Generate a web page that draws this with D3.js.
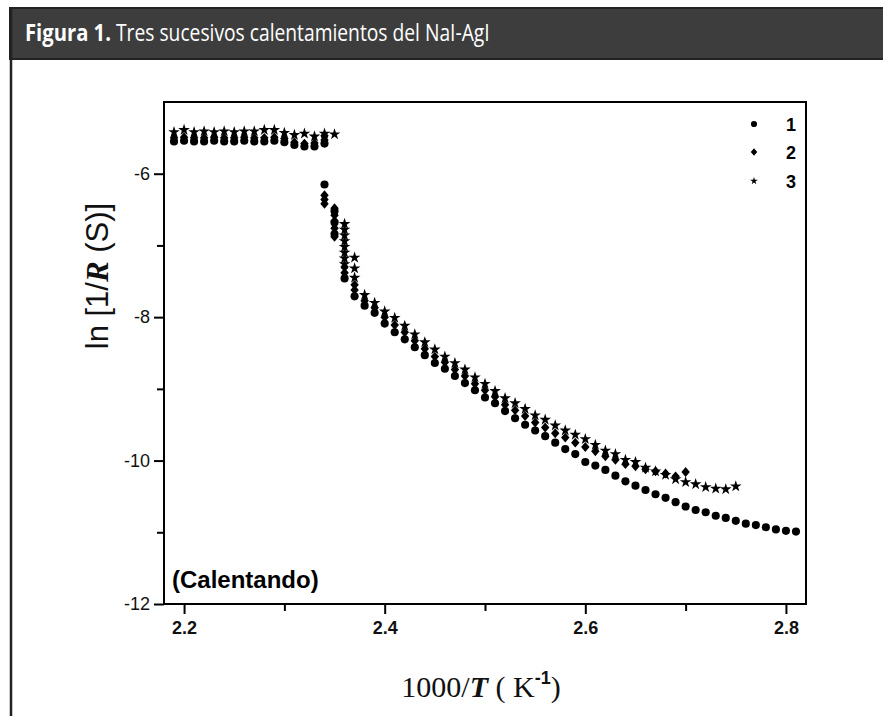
<!DOCTYPE html>
<html>
<head>
<meta charset="utf-8">
<script src="https://cdn.jsdelivr.net/npm/d3@7/dist/d3.min.js"></script>
<style>
  html, body { margin: 0; padding: 0; background: #fff; }
  svg { display: block; }
</style>
</head>
<body>
<svg id="chart" width="883" height="716"></svg>
<script>
// ---------------- DATA ----------------
const titleBold = "Figura 1.";
const titleRest = "Tres sucesivos calentamientos del NaI-AgI";
const xTicksMajor = [2.2, 2.4, 2.6, 2.8];
const xTicksMinor = [2.3, 2.5, 2.7];
const yTicksMajor = [-12, -10, -8, -6];
const yTicksMinor = [-11, -9, -7];
const seriesNames = ["1", "2", "3"];

// Series 1 (circles)
const x1 = [2.19,2.20,2.21,2.22,2.23,2.24,2.25,2.26,2.27,2.28,2.29,2.30,2.31,2.32,2.33,2.34,
  2.34, 2.35,2.35,2.35, 2.36,
  2.37,2.38,2.39,2.40,2.41,2.42,2.43,2.44,2.45,2.46,2.47,2.48,2.49,2.50,2.51,2.52,2.53,2.54,2.55,2.56,2.57,
  2.58,2.59,2.60,2.61,2.62,2.63,2.64,2.65,2.66,2.67,2.68,2.69,2.70,2.71,2.72,2.73,2.74,2.75,2.76,2.77,2.78,2.79,2.80,2.81];
const y1 = [-5.55,-5.54,-5.55,-5.55,-5.54,-5.55,-5.55,-5.54,-5.55,-5.55,-5.54,-5.56,-5.60,-5.62,-5.62,-5.58,
  -6.15, -6.52,-6.68,-6.84, -7.46,
  -7.71,-7.84,-7.94,-8.09,-8.21,-8.31,-8.42,-8.53,-8.64,-8.72,-8.82,-8.92,-9.02,-9.12,-9.20,-9.31,-9.41,-9.50,-9.58,-9.66,-9.75,
  -9.84,-9.91,-10.02,-10.07,-10.13,-10.21,-10.29,-10.35,-10.41,-10.47,-10.52,-10.58,-10.64,-10.69,-10.72,-10.77,-10.80,-10.84,-10.88,-10.90,-10.93,-10.96,-10.98,-10.99];

// Series 2 (diamonds)
const x2 = [2.19,2.20,2.21,2.22,2.23,2.24,2.25,2.26,2.27,2.28,2.29,2.30,2.31,2.32,2.33,2.34,2.34,
  2.34,2.34,2.34, 2.35,2.35,2.35,2.35,2.35, 2.36,2.36, 2.37,2.37,
  2.38,2.39,2.40,2.41,2.42,2.43,2.44,2.45,2.46,2.47,2.48,2.49,2.50,2.51,2.52,2.53,2.54,2.55,2.56,2.57,
  2.58,2.59,2.60,2.61,2.62,2.63,2.64,2.65,2.66,2.67,2.68,2.69,2.70];
const y2 = [-5.50,-5.49,-5.50,-5.50,-5.49,-5.50,-5.50,-5.49,-5.50,-5.50,-5.49,-5.51,-5.56,-5.58,-5.57,-5.47,-5.53,
  -6.30,-6.36,-6.42, -6.48,-6.58,-6.66,-6.76,-6.88, -7.30,-7.38, -7.55,-7.62,
  -7.77,-7.87,-8.00,-8.11,-8.21,-8.33,-8.44,-8.55,-8.63,-8.73,-8.82,-8.93,-9.02,-9.11,-9.22,-9.30,-9.38,-9.47,-9.54,-9.62,
  -9.68,-9.75,-9.81,-9.87,-9.94,-9.99,-10.05,-10.08,-10.12,-10.15,-10.18,-10.22,-10.16];

// Series 3 (stars)
const x3 = [2.19,2.20,2.21,2.22,2.23,2.24,2.25,2.26,2.27,2.28,2.29,2.30,2.31,2.32,2.33,2.34,2.35,
  2.36,2.36,2.36,2.36,2.36,2.36,2.36,2.36, 2.37,2.37,2.37,
  2.38,2.39,2.40,2.41,2.42,2.43,2.44,2.45,2.46,2.47,2.48,2.49,2.50,2.51,2.52,2.53,2.54,2.55,2.56,2.57,
  2.58,2.59,2.60,2.61,2.62,2.63,2.64,2.65,2.66,2.67,2.68,2.69,2.70,2.71,2.72,2.73,2.74,2.75];
const y3 = [-5.42,-5.39,-5.42,-5.41,-5.42,-5.41,-5.42,-5.41,-5.41,-5.39,-5.39,-5.43,-5.46,-5.44,-5.48,-5.44,-5.45,
  -6.70,-6.78,-6.86,-6.94,-7.02,-7.10,-7.18,-7.26, -7.17,-7.32,-7.45,
  -7.69,-7.80,-7.92,-8.01,-8.12,-8.24,-8.35,-8.45,-8.55,-8.64,-8.73,-8.84,-8.93,-9.03,-9.13,-9.20,-9.28,-9.37,-9.43,-9.51,
  -9.58,-9.64,-9.70,-9.78,-9.86,-9.91,-9.99,-10.02,-10.10,-10.15,-10.20,-10.26,-10.30,-10.33,-10.37,-10.39,-10.40,-10.36];

// ---------------- DRAW ----------------
const svg = d3.select("#chart");
svg.append("rect").attr("width", 883).attr("height", 716).attr("fill", "#fff");

// header band and left border
svg.append("rect").attr("x", 10).attr("y", 8).attr("width", 880).attr("height", 51)
  .attr("fill", "#3d3d3d").attr("stroke", "#222").attr("stroke-width", 2);
svg.append("line").attr("x1", 11).attr("x2", 11).attr("y1", 8).attr("y2", 716)
  .attr("stroke", "#222").attr("stroke-width", 2.5);

function fitText(str, x0, targetW, weight) {
  const t = svg.append("text").attr("x", 0).attr("y", 0)
    .attr("font-family", "'Open Sans', 'Noto Sans', sans-serif").attr("font-weight", weight)
    .attr("font-size", 23).attr("fill", "#fff").text(str);
  const w = t.node().getComputedTextLength() || targetW;
  t.attr("transform", `translate(${x0},41) scale(${targetW / w},1)`);
}
fitText(titleBold, 25, 86, 700);
fitText(titleRest, 116, 374, 400);

const L = 164, R = 806, T = 102, B = 604;
const x = d3.scaleLinear().domain([2.18, 2.82]).range([L, R]);
const y = d3.scaleLinear().domain([-12, -5]).range([B, T]);

const g = svg.append("g");

// minor ticks
g.append("g").attr("transform", `translate(0,${B})`)
  .call(d3.axisBottom(x).tickValues(xTicksMinor).tickSize(7).tickFormat(""))
  .call(a => a.select(".domain").remove());
g.append("g").attr("transform", `translate(${L},0)`)
  .call(d3.axisLeft(y).tickValues(yTicksMinor).tickSize(7).tickFormat(""))
  .call(a => a.select(".domain").remove());

// major ticks + labels
const xAx = g.append("g").attr("transform", `translate(0,${B})`)
  .call(d3.axisBottom(x).tickValues(xTicksMajor).tickSize(10).tickPadding(7).tickFormat(d => d.toFixed(1)));
xAx.select(".domain").remove();
xAx.selectAll("text").attr("font-family", "'Liberation Sans Narrow', 'Arial Narrow', 'Liberation Sans', Arial, sans-serif")
  .attr("font-weight", 700).attr("font-size", 18).attr("fill", "#111");

const yAx = g.append("g").attr("transform", `translate(${L},0)`)
  .call(d3.axisLeft(y).tickValues(yTicksMajor).tickSize(10).tickPadding(4).tickFormat(d => String(d)));
yAx.select(".domain").remove();
yAx.selectAll("text").attr("font-family", "'Liberation Sans', Arial, sans-serif")
  .attr("font-size", 18).attr("fill", "#111");

g.selectAll(".tick line").attr("stroke", "#000").attr("stroke-width", 2);

// frame
g.append("rect").attr("x", L).attr("y", T).attr("width", R - L).attr("height", B - T)
  .attr("fill", "none").attr("stroke", "#000").attr("stroke-width", 2);

// symbols
const diamondType = {
  draw(ctx, size) {
    const h = Math.sqrt(size) * 0.62, w = h * 0.85;
    ctx.moveTo(0, -h); ctx.lineTo(w, 0); ctx.lineTo(0, h); ctx.lineTo(-w, 0); ctx.closePath();
  }
};
const sym = [
  d3.symbol().type(d3.symbolCircle).size(52),
  d3.symbol().type(diamondType).size(64),
  d3.symbol().type(d3.symbolStar).size(42)
];
const series = [d3.zip(x1, y1), d3.zip(x2, y2), d3.zip(x3, y3)];
series.forEach((data, i) => {
  g.append("g").selectAll("path").data(data).join("path")
    .attr("transform", d => `translate(${x(d[0])},${y(d[1])})`)
    .attr("d", sym[i]()).attr("fill", "#000");
});

// legend
const legSym = [
  d3.symbol().type(d3.symbolCircle).size(30),
  d3.symbol().type(diamondType).size(38),
  d3.symbol().type(d3.symbolStar).size(18)
];
const legY = [124, 152, 181];
seriesNames.forEach((n, i) => {
  g.append("path").attr("transform", `translate(754,${legY[i]})`).attr("d", legSym[i]()).attr("fill", "#000");
  g.append("text").attr("x", 786).attr("y", legY[i] + 6.5)
    .attr("font-family", "'Liberation Sans', Arial, sans-serif").attr("font-weight", 700)
    .attr("font-size", 18).attr("fill", "#000").text(n);
});

// annotation
g.append("text").attr("x", 172).attr("y", 588)
  .attr("font-family", "'Liberation Sans', Arial, sans-serif").attr("font-weight", 700)
  .attr("font-size", 24).attr("fill", "#000").text("(Calentando)");

// x axis title
const xt = svg.append("text").attr("x", 481).attr("y", 697).attr("text-anchor", "middle")
  .attr("font-family", "'Liberation Serif', 'Times New Roman', serif").attr("font-size", 30).attr("fill", "#111");
xt.append("tspan").text("1000/");
xt.append("tspan").attr("font-weight", 700).attr("font-style", "italic").text("T");
xt.append("tspan").text(" ( K");
xt.append("tspan").attr("font-family", "'Liberation Sans', Arial, sans-serif").attr("font-weight", 700)
  .attr("font-size", 18).attr("dy", -13).text("-1");
xt.append("tspan").attr("dy", 13).text(")");

// y axis title
const yt = svg.append("text").attr("transform", "translate(108,276) rotate(-90)").attr("text-anchor", "middle")
  .attr("font-family", "'Liberation Sans', Arial, sans-serif").attr("font-size", 31).attr("fill", "#111");
yt.append("tspan").text("ln [1/");
yt.append("tspan").attr("font-family", "'Liberation Serif', 'Times New Roman', serif")
  .attr("font-weight", 700).attr("font-style", "italic").text("R");
yt.append("tspan").text(" (S)]");
</script>
</body>
</html>
